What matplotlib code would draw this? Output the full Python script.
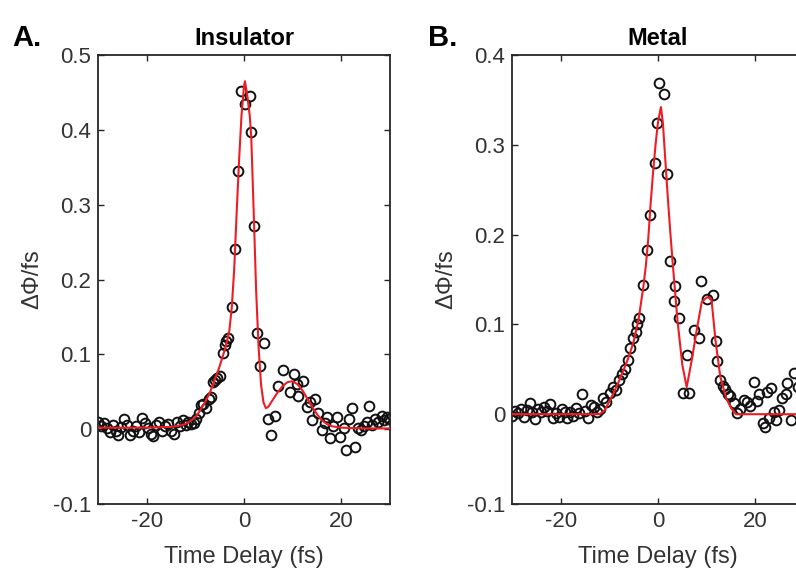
import numpy as np
import matplotlib
matplotlib.use("Agg")
import matplotlib.pyplot as plt

plt.rcParams['font.family'] = ['Liberation Sans', 'DejaVu Sans']
plt.rcParams['axes.unicode_minus'] = False

# ---- panel A : insulator (measured points) ----
ins_t = [-30.0, -29.4, -28.8, -28.2, -27.6, -27.0, -26.4, -25.8, -25.2, -24.6,
         -24.0, -23.4, -22.8, -22.2, -21.6, -21.0, -20.4, -19.8, -19.2, -18.6,
         -18.0, -17.4, -16.8, -16.2, -15.6, -15.0, -14.4, -13.8, -13.2, -12.6,
         -12.0, -11.4, -10.8, -10.2,
         -9.8, -9.2, -8.8, -8.4, -7.8, -7.2, -6.8, -6.4, -6.0, -5.5,
         -4.9, -4.4, -4.0, -3.6, -3.2, -2.5, -1.9, -1.2, -0.6, 0.2,
         1.2, 1.5, 2.1, 2.6, 3.3, 4.2,
         5.0, 5.6, 6.4, 7.0, 8.1, 9.5, 10.2, 10.8, 11.2, 12.2,
         12.9, 13.6, 13.9, 14.6, 15.3, 16.0, 16.6, 17.1, 17.7, 18.3,
         19.1, 19.8, 20.5, 20.9, 21.6, 22.2, 22.9, 23.5, 24.1, 24.7,
         25.3, 25.7, 26.3, 27.0, 27.6, 28.3, 28.8, 29.3, 29.8]
ins_phi = [0.010, 0.004, 0.008, 0.002, -0.004, 0.006, -0.002, -0.008, 0.003, 0.013,
           0.006, -0.008, -0.002, 0.004, -0.004, 0.015, 0.008, 0.001, -0.006, -0.009,
           0.005, 0.010, -0.002, 0.004, 0.007, -0.003, -0.007, 0.009, 0.004, 0.012,
           0.006, 0.009, 0.007, 0.008,
           0.014, 0.022, 0.032, 0.034, 0.028, 0.040, 0.043, 0.063, 0.066, 0.068,
           0.071, 0.102, 0.112, 0.118, 0.122, 0.163, 0.241, 0.345, 0.452, 0.434,
           0.445, 0.397, 0.272, 0.128, 0.085, 0.115,
           0.014, -0.008, 0.018, 0.058, 0.079, 0.050, 0.074, 0.060, 0.044, 0.064,
           0.030, 0.036, 0.012, 0.040, 0.022, -0.001, 0.008, 0.016, -0.012, 0.004,
           0.016, -0.010, 0.002, -0.028, 0.014, 0.028, -0.024, 0.002, -0.001, 0.004,
           0.010, 0.031, 0.006, 0.014, 0.010, 0.018, 0.012, 0.016, 0.014]

# panel A fit curve
ins_fit_t = [-30, -20, -15, -13, -12, -11, -10, -9, -8, -7, -6, -5, -4, -3.5, -3,
             -2.5, -2, -1.5, -1, -0.5, 0, 0.2, 0.7, 1.2, 1.5, 2, 2.5, 3, 3.5, 4,
             4.5, 5, 6, 7, 8, 9, 10, 11, 12, 13, 14, 15, 16, 17, 18, 20, 25, 30]
ins_fit_phi = [0.002, 0.002, 0.003, 0.005, 0.007, 0.011, 0.016, 0.025, 0.036, 0.049,
               0.066, 0.084, 0.105, 0.117, 0.132, 0.163, 0.215, 0.290, 0.360, 0.420,
               0.458, 0.465, 0.445, 0.418, 0.390, 0.290, 0.185, 0.110, 0.060, 0.036,
               0.028, 0.030, 0.040, 0.050, 0.058, 0.063, 0.064, 0.060, 0.052, 0.041,
               0.030, 0.020, 0.012, 0.007, 0.004, 0.002, 0.001, 0.001]

# ---- panel B : metal (measured points) ----
met_t = [-30.0, -29.4, -28.8, -28.2, -27.6, -27.0, -26.4, -25.8, -25.2, -24.6,
         -24.0, -23.4, -22.8, -22.2, -21.6, -21.0, -20.4, -19.8, -19.2, -18.6,
         -18.0, -17.4, -16.8, -16.2, -15.6, -15.0, -14.4, -13.8, -13.2, -12.6,
         -12.0,
         -11.2, -10.6, -9.8, -9.2, -8.6, -8.0, -7.4, -6.8, -6.2, -5.7,
         -5.2, -4.6, -4.3, -4.0, -3.0, -2.3, -1.7, -0.7, -0.2, 0.3,
         1.2, 1.9, 2.5, 3.2, 3.6, 4.4, 5.1, 5.9, 6.4, 7.5,
         8.4, 8.9, 10.0, 11.3, 11.9, 12.2, 12.8, 13.3, 13.8, 14.3,
         14.9, 15.6, 16.2, 16.8, 17.6, 18.3, 19.0, 19.7, 20.3, 20.8,
         21.5, 22.0, 22.4, 22.8, 23.2, 23.8, 24.2, 24.9, 25.5, 26.3,
         26.6, 27.3, 28.0, 28.7, 29.4]
met_phi = [-0.002, 0.004, 0.001, 0.006, -0.003, 0.005, 0.012, 0.002, -0.005, 0.006,
           0.003, 0.008, 0.004, 0.011, -0.004, 0.001, -0.003, 0.006, 0.002, -0.004,
           0.003, -0.002, 0.007, 0.001, 0.022, 0.004, -0.004, 0.010, 0.008, 0.003,
           0.006,
           0.018, 0.014, 0.024, 0.030, 0.027, 0.038, 0.045, 0.050, 0.060, 0.074,
           0.085, 0.092, 0.100, 0.107, 0.144, 0.183, 0.222, 0.280, 0.324, 0.369,
           0.357, 0.267, 0.171, 0.126, 0.143, 0.107, 0.024, 0.066, 0.024, 0.094,
           0.085, 0.148, 0.128, 0.133, 0.081, 0.059, 0.038, 0.031, 0.028, 0.022,
           0.020, 0.012, 0.001, 0.006, 0.016, 0.014, 0.009, 0.036, 0.015, 0.022,
           -0.010, -0.014, 0.025, -0.004, 0.029, 0.002, -0.006, 0.005, 0.018, 0.022,
           0.035, -0.006, 0.046, 0.030, 0.040]

# panel B fit curve
met_fit_t = [-30, -12, -11, -10, -9, -8, -7, -6, -5, -4, -3, -2.5, -2, -1.5, -1,
             -0.5, 0, 0.6, 1, 2, 2.5, 3, 4, 5, 5.9, 7, 8, 9, 10, 10.5, 11,
             11.8, 12.8, 14, 15, 16, 20, 30]
met_fit_phi = [0.0, 0.0, 0.004, 0.014, 0.025, 0.037, 0.050, 0.064, 0.081, 0.105,
               0.142, 0.165, 0.195, 0.235, 0.270, 0.300, 0.325, 0.342, 0.325, 0.243,
               0.205, 0.170, 0.105, 0.055, 0.030, 0.062, 0.095, 0.125, 0.130, 0.130,
               0.128, 0.083, 0.042, 0.018, 0.007, 0.0, 0.0, 0.0]

x_ticks = [-20, 0, 20]
ins_y_ticks = [-0.1, 0, 0.1, 0.2, 0.3, 0.4, 0.5]
met_y_ticks = [-0.1, 0, 0.1, 0.2, 0.3, 0.4]

AXCOL = '#262626'


def draw_panel(ax, t, phi, fit_t, fit_phi, yticks, title):
    ax.plot(t, phi, 'o', ms=7, mfc='none', mec='#111111', mew=1.4, zorder=2)
    ax.plot(fit_t, fit_phi, '-', color='#ee1c24', lw=1.5, zorder=3)
    ax.set_xlim(-30, 30)
    ax.set_ylim(yticks[0], yticks[-1])
    ax.set_xticks(x_ticks)
    ax.set_xticklabels([f"{v:g}" for v in x_ticks])
    ax.set_yticks(yticks)
    ax.set_yticklabels([f"{v:g}" for v in yticks])
    ax.tick_params(direction='in', top=True, right=True, length=4.5, width=1.0,
                   labelsize=16, color=AXCOL, labelcolor='#333333', pad=5)
    for s in ax.spines.values():
        s.set_linewidth(1.3)
        s.set_color(AXCOL)
    ax.set_xlabel('Time Delay (fs)', fontsize=17, color='#333333', labelpad=10)
    ax.set_ylabel('ΔΦ/fs', fontsize=17, color='#333333', labelpad=7)
    ax.set_title(title, fontsize=17, fontweight='bold', pad=7)


def main():
    fig = plt.figure(figsize=(7.96, 5.76), dpi=100)
    axA = fig.add_axes([0.1231, 0.125, 0.3668, 0.7795])
    axB = fig.add_axes([0.6432, 0.125, 0.3668, 0.7795])

    draw_panel(axA, ins_t, ins_phi, ins_fit_t, ins_fit_phi, ins_y_ticks, 'Insulator')
    draw_panel(axB, met_t, met_phi, met_fit_t, met_fit_phi, met_y_ticks, 'Metal')

    fig.text(0.015, 0.934, 'A.', fontsize=21, fontweight='bold', va='center')
    fig.text(0.538, 0.934, 'B.', fontsize=21, fontweight='bold', va='center')

    fig.savefig('out.png', dpi=100, facecolor='white')


if __name__ == "__main__":
    main()
